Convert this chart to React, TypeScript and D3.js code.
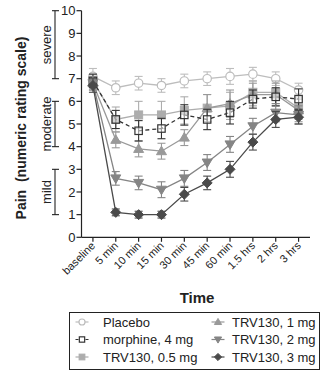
import React from "react";
import * as d3 from "d3";

const timepoints = ["baseline", "5 min", "10 min", "15 min", "30 min", "45 min", "60 min", "1.5 hrs", "2 hrs", "3 hrs"];
const yTicks = [0, 1, 2, 3, 4, 5, 6, 7, 8, 9, 10];

const placebo = [7.1, 6.6, 6.8, 6.7, 6.9, 7.0, 7.1, 7.2, 7.0, 6.5];
const placeboErr = [0.35, 0.3, 0.3, 0.3, 0.3, 0.3, 0.35, 0.3, 0.3, 0.3];
const morphine = [6.9, 5.2, 4.7, 4.8, 5.4, 5.2, 5.5, 6.1, 6.2, 6.1];
const morphineErr = [0.3, 0.4, 0.45, 0.45, 0.45, 0.45, 0.5, 0.4, 0.4, 0.45];
const trv05 = [6.9, 5.2, 5.4, 5.4, 5.6, 5.7, 5.8, 6.4, 6.4, 5.7];
const trv05Err = [0.3, 0.55, 0.6, 0.6, 0.6, 0.6, 0.6, 0.5, 0.5, 0.5];
const trv1 = [6.8, 4.3, 3.9, 3.8, 4.4, 5.7, 5.9, 6.3, 6.3, 5.6];
const trv1Err = [0.3, 0.35, 0.35, 0.35, 0.35, 0.6, 0.6, 0.5, 0.5, 0.5];
const trv2 = [6.8, 2.6, 2.4, 2.1, 2.6, 3.3, 4.1, 4.9, 5.5, 5.4];
const trv2Err = [0.3, 0.3, 0.3, 0.35, 0.35, 0.35, 0.35, 0.35, 0.4, 0.4];
const trv3 = [6.7, 1.1, 1.0, 1.0, 1.9, 2.4, 3.0, 4.2, 5.2, 5.3];
const trv3Err = [0.3, 0.15, 0.15, 0.15, 0.3, 0.3, 0.35, 0.35, 0.35, 0.3];

const severity = [
  { label: "severe", lo: 7, hi: 10 },
  { label: "moderate", lo: 4, hi: 6 },
  { label: "mild", lo: 1, hi: 3 },
];

type Series = { name: string; values: number[]; err: number[]; color: string; marker: string; dash?: string; fill: string };

const series: Series[] = [
  { name: "Placebo", values: placebo, err: placeboErr, color: "#bdbdbd", marker: "circle", fill: "white" },
  { name: "TRV130, 0.5 mg", values: trv05, err: trv05Err, color: "#adadad", marker: "square", fill: "#adadad" },
  { name: "TRV130, 1 mg", values: trv1, err: trv1Err, color: "#999999", marker: "triangle", fill: "#999999" },
  { name: "morphine, 4 mg", values: morphine, err: morphineErr, color: "#333333", marker: "squareOpen", dash: "4,3", fill: "rgba(255,255,255,0.5)" },
  { name: "TRV130, 2 mg", values: trv2, err: trv2Err, color: "#858585", marker: "triangleDown", fill: "#858585" },
  { name: "TRV130, 3 mg", values: trv3, err: trv3Err, color: "#4a4a4a", marker: "diamond", fill: "#4a4a4a" },
];

const legendOrder = ["Placebo", "morphine, 4 mg", "TRV130, 0.5 mg", "TRV130, 1 mg", "TRV130, 2 mg", "TRV130, 3 mg"];

function Marker({ kind, x, y, color, fill, s = 1 }: { kind: string; x: number; y: number; color: string; fill: string; s?: number }) {
  if (kind === "circle") return <circle cx={x} cy={y} r={4.2 * s} fill={fill} stroke={color} strokeWidth={1.2} />;
  if (kind === "square") return <rect x={x - 4 * s} y={y - 4 * s} width={8 * s} height={8 * s} fill={fill} stroke={color} />;
  if (kind === "squareOpen") return <rect x={x - 3.7 * s} y={y - 3.7 * s} width={7.4 * s} height={7.4 * s} fill={fill} stroke={color} strokeWidth={1.2} />;
  if (kind === "triangle") return <path d={`M${x},${y - 5 * s} L${x + 5 * s},${y + 3.5 * s} L${x - 5 * s},${y + 3.5 * s}Z`} fill={fill} stroke={color} />;
  if (kind === "triangleDown") return <path d={`M${x},${y + 5 * s} L${x + 5 * s},${y - 3.5 * s} L${x - 5 * s},${y - 3.5 * s}Z`} fill={fill} stroke={color} />;
  return <path d={`M${x},${y - 5 * s} L${x + 5 * s},${y} L${x},${y + 5 * s} L${x - 5 * s},${y}Z`} fill={fill} stroke={color} />;
}

export default function App() {
  const W = 329, H = 373;
  const left = 81.5, right = 310, top = 10.7, bottom = 237.3;
  const x = d3.scalePoint<string>().domain(timepoints).range([left, right]).padding(0.5);
  const y = d3.scaleLinear().domain([0, 10]).range([bottom, top]);
  const line = d3.line<number>().x((_, i) => x(timepoints[i])!).y((d) => y(d));
  const font = "Liberation Sans, Arial, sans-serif";

  return (
    <svg width={W} height={H} style={{ position: "absolute", left: 0, top: 0 }} fontFamily={font}>
      <rect width={W} height={H} fill="white" />
      <line x1={left} x2={left} y1={top} y2={bottom} stroke="#222" strokeWidth={1.2} />
      <line x1={left} x2={right} y1={bottom} y2={bottom} stroke="#222" strokeWidth={1.2} />
      {yTicks.map((t) => (
        <g key={t}>
          <line x1={left - 5} x2={left} y1={y(t)} y2={y(t)} stroke="#222" strokeWidth={1.2} />
          <text x={left - 6} y={y(t)} dy="0.35em" textAnchor="end" fontSize={13} fill="#222">{t}</text>
        </g>
      ))}
      {timepoints.map((t) => (
        <g key={t}>
          <line x1={x(t)} x2={x(t)} y1={bottom} y2={bottom + 4.5} stroke="#222" strokeWidth={1.2} />
          <text transform={`translate(${x(t)! + 3},${bottom + 9}) rotate(-45)`} textAnchor="end" fontSize={11} fill="#222">{t}</text>
        </g>
      ))}
      <text x={197} y={303} textAnchor="middle" fontSize={15} fontWeight="bold" fill="#222">Time</text>
      <text transform={`translate(21,128) rotate(-90)`} textAnchor="middle" dy="0.35em" fontSize={14} fontWeight="bold" fill="#222" xmlSpace="preserve">{"Pain  (numeric rating scale)"}</text>
      {severity.map((s) => (
        <g key={s.label}>
          <line x1={55} x2={55} y1={y(s.hi)} y2={y(s.lo)} stroke="#222" strokeWidth={1.1} />
          <line x1={52} x2={59} y1={y(s.hi)} y2={y(s.hi)} stroke="#222" strokeWidth={1.1} />
          <line x1={52} x2={59} y1={y(s.lo)} y2={y(s.lo)} stroke="#222" strokeWidth={1.1} />
          <text transform={`translate(46,${(y(s.hi) + y(s.lo)) / 2}) rotate(-90)`} textAnchor="middle" dy="0.35em" fontSize={13} fill="#222">{s.label}</text>
        </g>
      ))}
      {series.map((s) => (
        <g key={s.name}>
          {s.values.map((v, i) => {
            const cx = x(timepoints[i])!;
            return (
              <g key={i} stroke={s.color} strokeWidth={1.1}>
                <line x1={cx} x2={cx} y1={y(v - s.err[i])} y2={y(v + s.err[i])} />
                <line x1={cx - 4} x2={cx + 4} y1={y(v - s.err[i])} y2={y(v - s.err[i])} />
                <line x1={cx - 4} x2={cx + 4} y1={y(v + s.err[i])} y2={y(v + s.err[i])} />
              </g>
            );
          })}
          <path d={line(s.values)!} fill="none" stroke={s.color} strokeWidth={1.3} strokeDasharray={s.dash} />
          {s.values.map((v, i) => (
            <Marker key={i} kind={s.marker} x={x(timepoints[i])!} y={y(v)} color={s.color} fill={s.fill} />
          ))}
        </g>
      ))}
      <rect x={69.5} y={312.5} width={250} height={57} fill="white" stroke="#222" strokeWidth={1} />
      {legendOrder.map((name, k) => {
        const s = series.find((d) => d.name === name)!;
        const col = Math.floor(k / 3), row = k % 3;
        const sx = col === 0 ? 82 : 218;
        const tx = col === 0 ? 103 : 232;
        const ly = 322 + row * 17.5;
        return (
          <g key={name}>
            <line x1={sx - 6.5} x2={sx + 6.5} y1={ly} y2={ly} stroke={s.color} strokeWidth={1.2} strokeDasharray={s.dash ? "3,2" : undefined} />
            <Marker kind={s.marker} x={sx} y={ly} color={s.color} fill={s.fill === "rgba(255,255,255,0.5)" ? "white" : s.fill} s={0.72} />
            <text x={tx} y={ly} dy="0.35em" fontSize={13} fill="#222">{name}</text>
          </g>
        );
      })}
    </svg>
  );
}
